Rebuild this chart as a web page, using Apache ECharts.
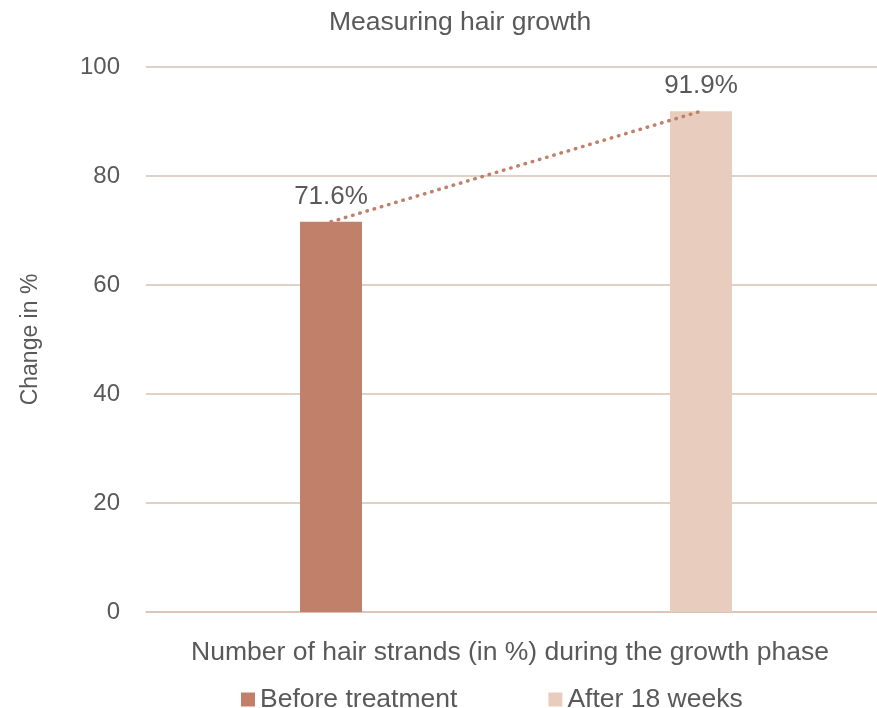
<!DOCTYPE html>
<html>
<head>
<meta charset="utf-8">
<script src="https://cdn.jsdelivr.net/npm/echarts@6/dist/echarts.min.js"></script>
<style>html,body{margin:0;padding:0;background:#fff}#c{width:877px;height:708px}</style>
</head>
<body>
<div id="c"></div>
<script>
var categories = ['Before treatment', 'After 18 weeks'];
var seriesNames = ['Before treatment', 'After 18 weeks'];
var beforeValues = [71.6, null];
var afterValues = [null, 91.9];
var trendValues = [71.6, 91.9];
var yTicks = [0, 20, 40, 60, 80, 100];

var chart = echarts.init(document.getElementById('c'));
var FONT = 'Liberation Sans, Arial, sans-serif';
var TXT = '#595959';
chart.setOption({
  animation: false,
  textStyle: { fontFamily: FONT },
  title: {
    text: 'Measuring hair growth', left: 324, top: 4,
    textStyle: { fontFamily: FONT, fontSize: 26.5, fontWeight: 'normal', color: TXT }
  },
  legend: {
    data: seriesNames, top: 681, left: 236, icon: 'rect',
    itemWidth: 14, itemHeight: 14, itemGap: 91,
    textStyle: { fontFamily: FONT, fontSize: 26.5, color: TXT }
  },
  grid: { left: 146, width: 740, top: 67, bottom: 96, containLabel: false, outerBoundsMode: 'none' },
  xAxis: {
    type: 'category', data: categories,
    name: 'Number of hair strands (in %) during the growth phase',
    nameLocation: 'middle', nameGap: 27,
    nameTextStyle: { fontFamily: FONT, fontSize: 26.5, color: TXT, padding: [0, 12, 0, 0] },
    axisLabel: { show: false }, axisTick: { show: false },
    axisLine: { lineStyle: { color: '#d6c2b4', width: 1.5 } }
  },
  yAxis: {
    type: 'value', min: yTicks[0], max: yTicks[yTicks.length - 1], interval: 20,
    name: 'Change in %', nameLocation: 'middle', nameGap: 104, nameRotate: 90,
    nameTextStyle: { fontFamily: FONT, fontSize: 23, color: TXT },
    axisLabel: { fontFamily: FONT, fontSize: 24, color: TXT, margin: 26 },
    axisLine: { show: false }, axisTick: { show: false },
    splitLine: { lineStyle: { color: '#d6c2b4', width: 1.5 } }
  },
  series: [
    {
      name: seriesNames[0], type: 'bar', data: beforeValues, barWidth: 62, barGap: '-100%',
      itemStyle: { color: '#c0806a' },
      label: { show: true, position: 'top', distance: 12, formatter: '{c}%', fontFamily: FONT, fontSize: 26, color: TXT }
    },
    {
      name: seriesNames[1], type: 'bar', data: afterValues, barWidth: 62, barGap: '-100%',
      itemStyle: { color: '#e8cdbf' },
      label: { show: true, position: 'top', distance: 12, formatter: '{c}%', fontFamily: FONT, fontSize: 26, color: TXT }
    },
    {
      name: 'trend', type: 'line', data: trendValues, symbol: 'none', z: 5,
      lineStyle: { color: '#c0806a', width: 3.5, type: [0.5, 7], cap: 'round' }
    }
  ]
});
</script>
</body>
</html>
